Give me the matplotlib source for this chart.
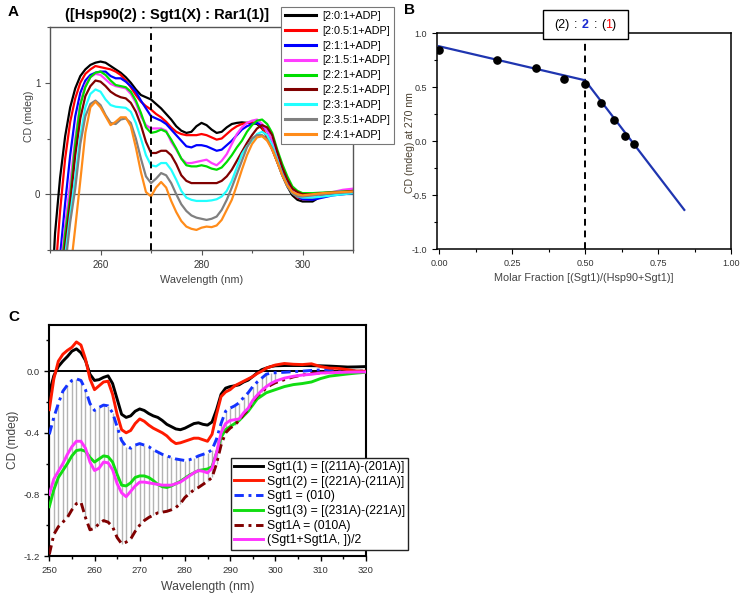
import matplotlib
matplotlib.use('Agg')
import matplotlib.pyplot as plt
from matplotlib.ticker import MultipleLocator, FormatStrFormatter
from matplotlib.offsetbox import TextArea, HPacker, AnchoredOffsetbox
from matplotlib.patches import Rectangle

plt.rcParams['font.family'] = ['Liberation Sans', 'DejaVu Sans']
plt.rcParams['axes.unicode_minus'] = False

# ---------------- Panel A data ----------------
wl_a = list(range(250, 301)) + [302, 304, 306, 308, 310]
a_labels = ['[2:0:1+ADP]', '[2:0.5:1+ADP]', '[2:1:1+ADP]', '[2:1.5:1+ADP]', '[2:2:1+ADP]',
            '[2:2.5:1+ADP]', '[2:3:1+ADP]', '[2:3.5:1+ADP]', '[2:4:1+ADP]']
cd_2_0_1 = [-1.2, -0.35, 0.15, 0.52, 0.78, 0.95, 1.06, 1.12, 1.16, 1.18,
            1.19, 1.18, 1.15, 1.12, 1.09, 1.05, 1.00, 0.94, 0.89, 0.87,
            0.85, 0.81, 0.77, 0.72, 0.67, 0.61, 0.57, 0.55, 0.56, 0.61,
            0.64, 0.62, 0.58, 0.55, 0.56, 0.60, 0.63, 0.64, 0.645, 0.64,
            0.64, 0.63, 0.59, 0.51, 0.41, 0.29, 0.17, 0.07, -0.01, -0.05,
            -0.065, -0.065, -0.01, 0.01, 0.015, 0.025]
cd_2_05_1 = [-1.2, -0.75, -0.15, 0.32, 0.65, 0.86, 1.0, 1.08, 1.12, 1.15,
             1.14, 1.13, 1.12, 1.10, 1.07, 1.02, 0.96, 0.89, 0.83, 0.79,
             0.76, 0.72, 0.69, 0.65, 0.60, 0.56, 0.54, 0.53, 0.53, 0.53,
             0.54, 0.53, 0.51, 0.49, 0.50, 0.54, 0.58, 0.61, 0.63, 0.64,
             0.645, 0.64, 0.60, 0.51, 0.40, 0.29, 0.18, 0.08, 0.01, -0.03,
             -0.045, -0.045, -0.01, 0.01, 0.02, 0.025]
cd_2_1_1 = [-1.5, -1.0, -0.55, -0.08, 0.35, 0.70, 0.91, 1.02, 1.07, 1.09,
            1.10, 1.10, 1.06, 1.04, 1.04, 1.01, 0.97, 0.92, 0.84, 0.77,
            0.70, 0.68, 0.66, 0.63, 0.58, 0.53, 0.48, 0.43, 0.42, 0.44,
            0.44, 0.43, 0.41, 0.39, 0.40, 0.44, 0.48, 0.53, 0.58, 0.61,
            0.63, 0.64, 0.62, 0.57, 0.46, 0.34, 0.22, 0.11, 0.02, -0.02,
            -0.045, -0.05, -0.03, -0.01, 0.0, 0.01]
cd_2_15_1 = [-1.6, -1.2, -0.7, -0.28, 0.1, 0.50, 0.82, 0.98, 1.05, 1.08,
             1.07, 1.03, 0.99, 0.97, 0.96, 0.95, 0.90, 0.82, 0.70, 0.62,
             0.59, 0.59, 0.59, 0.57, 0.47, 0.40, 0.32, 0.28, 0.28, 0.29,
             0.30, 0.31, 0.28, 0.26, 0.30, 0.36, 0.45, 0.54, 0.60, 0.64,
             0.66, 0.67, 0.63, 0.57, 0.48, 0.36, 0.24, 0.13, 0.05, 0.01,
             -0.015, -0.01, 0.01, 0.02, 0.04, 0.05]
cd_2_2_1 = [-1.6, -1.3, -0.8, -0.35, -0.02, 0.45, 0.80, 0.96, 1.05, 1.09,
            1.10, 1.07, 1.02, 0.98, 0.97, 0.96, 0.92, 0.84, 0.73, 0.60,
            0.55, 0.56, 0.58, 0.56, 0.49, 0.41, 0.32, 0.26, 0.25, 0.25,
            0.26, 0.25, 0.23, 0.22, 0.24, 0.29, 0.35, 0.42, 0.48, 0.56,
            0.62, 0.66, 0.67, 0.63, 0.55, 0.40, 0.27, 0.16, 0.07, 0.03,
            0.01, 0.01, 0.015, 0.02, 0.025, 0.03]
cd_2_25_1 = [-1.7, -1.4, -0.9, -0.45, -0.08, 0.35, 0.68, 0.88, 0.97, 1.02,
             1.01, 0.97, 0.92, 0.89, 0.87, 0.86, 0.82, 0.74, 0.62, 0.47,
             0.37, 0.37, 0.39, 0.39, 0.35, 0.27, 0.17, 0.12, 0.10, 0.10,
             0.10, 0.10, 0.10, 0.10, 0.12, 0.16, 0.22, 0.30, 0.38, 0.46,
             0.53, 0.59, 0.62, 0.60, 0.53, 0.38, 0.24, 0.13, 0.05, 0.02,
             0.0, 0.0, 0.01, 0.015, 0.02, 0.03]
cd_2_3_1 = [-1.8, -1.5, -1.0, -0.55, -0.18, 0.15, 0.52, 0.78, 0.90, 0.94,
            0.92, 0.85, 0.80, 0.785, 0.78, 0.775, 0.74, 0.64, 0.50, 0.35,
            0.26, 0.25, 0.28, 0.28, 0.22, 0.13, 0.03, -0.03, -0.05, -0.06,
            -0.06, -0.06, -0.055, -0.045, -0.02, 0.03, 0.12, 0.24, 0.36, 0.43,
            0.48, 0.54, 0.56, 0.53, 0.44, 0.31, 0.18, 0.08, 0.01, -0.02,
            -0.03, -0.03, -0.02, -0.01, 0.0, 0.01]
cd_2_35_1 = [-1.9, -1.6, -1.1, -0.65, -0.25, 0.05, 0.45, 0.70, 0.81, 0.84,
             0.80, 0.71, 0.64, 0.63, 0.67, 0.68, 0.64, 0.50, 0.32, 0.16,
             0.10, 0.14, 0.19, 0.17, 0.10, 0.0, -0.09, -0.15, -0.19, -0.21,
             -0.22, -0.23, -0.22, -0.20, -0.14, -0.05, 0.06, 0.18, 0.30, 0.42,
             0.50, 0.53, 0.53, 0.49, 0.41, 0.29, 0.17, 0.07, 0.01, -0.02,
             -0.02, -0.01, 0.0, 0.01, 0.015, 0.02]
cd_2_4_1 = [-2.0, -1.8, -1.3, -0.95, -0.7, -0.3, 0.12, 0.55, 0.78, 0.83,
            0.78, 0.70, 0.62, 0.65, 0.69, 0.69, 0.61, 0.42, 0.20, 0.02,
            -0.02, 0.06, 0.11, 0.06, -0.06, -0.16, -0.24, -0.29, -0.31, -0.32,
            -0.30, -0.29, -0.295, -0.28, -0.23, -0.14, -0.05, 0.08, 0.22, 0.35,
            0.45, 0.51, 0.52, 0.48, 0.40, 0.29, 0.17, 0.08, 0.02, 0.0,
            -0.01, 0.0, 0.01, 0.015, 0.02, 0.025]
a_series = [cd_2_0_1, cd_2_05_1, cd_2_1_1, cd_2_15_1, cd_2_2_1,
            cd_2_25_1, cd_2_3_1, cd_2_35_1, cd_2_4_1]
a_colors = ['#000000', '#ff0000', '#0000ff', '#ff3dff', '#00dd00',
            '#800000', '#22ffff', '#808080', '#ff8c1a']

# ---------------- Panel B data ----------------
molar_fraction = [0.0, 0.2, 0.333, 0.429, 0.5, 0.556, 0.6, 0.636, 0.667]
cd_270 = [0.846, 0.753, 0.68, 0.574, 0.528, 0.352, 0.198, 0.052, -0.025]
fit_x = [0.0, 0.5, 0.84]
fit_y = [0.88, 0.565, -0.635]

# ---------------- Panel C data ----------------
wl_c = list(range(250, 301)) + list(range(302, 321, 2))
sgt1_1 = [-0.14, -0.03, 0.03, 0.065, 0.095, 0.13, 0.145, 0.12, 0.07, -0.02,
          -0.06, -0.055, -0.04, -0.03, -0.08, -0.18, -0.28, -0.30, -0.29, -0.26,
          -0.245, -0.255, -0.275, -0.29, -0.30, -0.32, -0.345, -0.36, -0.375, -0.38,
          -0.37, -0.355, -0.34, -0.335, -0.345, -0.35, -0.33, -0.25, -0.15, -0.11,
          -0.10, -0.095, -0.088, -0.07, -0.058, -0.035, -0.01, 0.01, 0.02, 0.03,
          0.035, 0.037, 0.037, 0.037, 0.036, 0.035, 0.033, 0.03, 0.027, 0.028, 0.03]
sgt1_2 = [-0.25, -0.05, 0.065, 0.11, 0.135, 0.155, 0.19, 0.17, 0.08, -0.05,
          -0.12, -0.095, -0.07, -0.065, -0.15, -0.28, -0.38, -0.40, -0.385, -0.34,
          -0.31, -0.325, -0.35, -0.37, -0.385, -0.40, -0.42, -0.45, -0.47, -0.465,
          -0.455, -0.445, -0.435, -0.435, -0.445, -0.455, -0.41, -0.28, -0.165, -0.135,
          -0.12, -0.095, -0.08, -0.065, -0.05, -0.035, -0.015, 0.0, 0.02, 0.03,
          0.04, 0.05, 0.045, 0.043, 0.048, 0.03, 0.02, 0.018, 0.01, 0.0, 0.0]
sgt1_010 = [-0.41, -0.30, -0.21, -0.13, -0.09, -0.06, -0.05, -0.06, -0.12, -0.21,
            -0.255, -0.235, -0.22, -0.225, -0.27, -0.36, -0.45, -0.49, -0.50, -0.48,
            -0.47, -0.48, -0.49, -0.51, -0.525, -0.54, -0.55, -0.56, -0.57, -0.575,
            -0.58, -0.575, -0.565, -0.55, -0.54, -0.53, -0.51, -0.44, -0.34, -0.26,
            -0.24, -0.225, -0.205, -0.17, -0.14, -0.10, -0.07, -0.045, -0.02, -0.012,
            -0.01, -0.007, -0.003, 0.0, 0.005, 0.008, 0.01, 0.01, 0.005, 0.0, 0.0]
sgt1_3 = [-0.88, -0.77, -0.69, -0.645, -0.60, -0.55, -0.515, -0.51, -0.52, -0.56,
          -0.59, -0.57, -0.55, -0.555, -0.59, -0.67, -0.74, -0.745, -0.725, -0.69,
          -0.68, -0.68, -0.69, -0.71, -0.735, -0.75, -0.755, -0.745, -0.73, -0.715,
          -0.695, -0.675, -0.66, -0.645, -0.64, -0.635, -0.62, -0.53, -0.43, -0.38,
          -0.36, -0.34, -0.32, -0.29, -0.26, -0.22, -0.18, -0.16, -0.14, -0.13,
          -0.12, -0.10, -0.087, -0.08, -0.07, -0.048, -0.032, -0.025, -0.018, -0.012, -0.007]
sgt1a_010a = [-1.19, -1.06, -1.01, -0.98, -0.95, -0.90, -0.86, -0.85, -0.95, -1.03,
              -1.02, -0.99, -0.97, -0.98, -1.01, -1.08, -1.12, -1.11, -1.09, -1.04,
              -1.0, -0.97, -0.95, -0.935, -0.92, -0.915, -0.91, -0.90, -0.885, -0.86,
              -0.82, -0.795, -0.77, -0.755, -0.735, -0.715, -0.69, -0.60, -0.48, -0.40,
              -0.37, -0.35, -0.32, -0.28, -0.25, -0.20, -0.16, -0.135, -0.11, -0.09,
              -0.075, -0.055, -0.037, -0.025, -0.015, -0.011, -0.008, -0.005, -0.003, 0.0, 0.0]
sgt1_avg = [-0.80, -0.70, -0.65, -0.60, -0.54, -0.49, -0.455, -0.455, -0.50, -0.59,
            -0.645, -0.63, -0.59, -0.595, -0.64, -0.73, -0.79, -0.815, -0.78, -0.745,
            -0.72, -0.72, -0.725, -0.73, -0.735, -0.74, -0.74, -0.74, -0.73, -0.72,
            -0.70, -0.68, -0.66, -0.645, -0.65, -0.66, -0.63, -0.53, -0.40, -0.34,
            -0.32, -0.315, -0.31, -0.27, -0.24, -0.19, -0.155, -0.125, -0.10, -0.08,
            -0.065, -0.045, -0.033, -0.025, -0.02, -0.012, -0.01, -0.008, -0.006, -0.005, -0.005]
c_labels = ['Sgt1(1) = [(211A)-(201A)]', 'Sgt1(2) = [(221A)-(211A)]', 'Sgt1 = (010)',
            'Sgt1(3) = [(231A)-(221A)]', 'Sgt1A = (010A)', '(Sgt1+Sgt1A, ])/2']

# ---------------- Figure ----------------
W, H = 743, 597
fig = plt.figure(figsize=(W / 100, H / 100), dpi=100)

def rect(l, t, r, b):
    return [l / W, 1 - b / H, (r - l) / W, (b - t) / H]

tick_col = '#333333'

# ---- Panel A ----
axA = fig.add_axes(rect(50, 27, 353, 250))
for s in axA.spines.values():
    s.set_color('#555555')
    s.set_linewidth(1.0)
axA.axhline(0, color='#555555', lw=0.9, zorder=1)
for y, c, lab in zip(a_series, a_colors, a_labels):
    axA.plot(wl_a, y, color=c, lw=1.6, label=lab, zorder=2)
axA.axvline(270, color='black', lw=1.4, ls=(0, (3.5, 2.5)), zorder=5)
axA.set_xlim(250, 310)
axA.set_ylim(-0.5, 1.5)
axA.xaxis.set_major_locator(MultipleLocator(20))
axA.xaxis.set_minor_locator(MultipleLocator(10))
axA.yaxis.set_major_locator(MultipleLocator(1))
axA.yaxis.set_minor_locator(MultipleLocator(0.5))
axA.yaxis.set_major_formatter(FormatStrFormatter('%g'))
axA.tick_params(which='both', direction='out', colors='#555555', labelcolor=tick_col,
                labelsize=7, width=0.8)
axA.tick_params(which='major', length=3.5)
axA.tick_params(which='minor', length=2.5)
axA.set_xlabel('Wavelength (nm)', fontsize=7.8, color='#444444')
axA.set_ylabel('CD (mdeg)', fontsize=7.6, color='#444444')
axA.xaxis.set_label_coords(0.5, -0.112)
axA.yaxis.set_label_coords(-0.053, 0.6)
legA = axA.legend(loc='upper left', bbox_to_anchor=(281 / W, 1 - 7 / H),
                  bbox_transform=fig.transFigure, fontsize=7.8, frameon=True,
                  fancybox=False, edgecolor='#777777', framealpha=1,
                  handlelength=2.9, handletextpad=0.6, labelspacing=0.45,
                  borderpad=0.35, borderaxespad=0)
legA.get_frame().set_linewidth(0.8)
for ln in legA.get_lines():
    ln.set_linewidth(2.2)
fig.text(167 / W, 1 - 15 / H, '([Hsp90(2) : Sgt1(X) : Rar1(1)]', fontsize=10.5,
         fontweight='bold', ha='center', va='center')
fig.text(8 / W, 1 - 12 / H, 'A', fontsize=11, fontweight='bold', ha='left', va='center')

# ---- Panel B ----
axB = fig.add_axes(rect(436.7, 33.3, 731, 249.3))
for s in axB.spines.values():
    s.set_color('black')
    s.set_linewidth(1.1)
axB.axvline(0.5, color='black', lw=1.4, ls=(0, (3.5, 2.5)), zorder=2)
axB.plot(fit_x, fit_y, color='#1f35b0', lw=1.6, zorder=3)
axB.plot(molar_fraction, cd_270, 'o', color='black', ms=5.2, zorder=4)
axB.set_xlim(-0.008, 1.0)
axB.set_ylim(-1.0, 1.0)
axB.xaxis.set_major_locator(MultipleLocator(0.25))
axB.xaxis.set_minor_locator(MultipleLocator(0.125))
axB.yaxis.set_major_locator(MultipleLocator(0.5))
axB.yaxis.set_minor_locator(MultipleLocator(0.25))
axB.xaxis.set_major_formatter(FormatStrFormatter('%.2f'))
axB.yaxis.set_major_formatter(FormatStrFormatter('%.1f'))
axB.tick_params(which='both', direction='out', labelsize=6.5, labelcolor=tick_col, width=0.8)
axB.tick_params(which='major', length=3.5)
axB.tick_params(which='minor', length=2)
axB.set_xlabel('Molar Fraction [(Sgt1)/(Hsp90+Sgt1)]', fontsize=7.8, color='#444444')
axB.set_ylabel('CD (mdeg) at 270 nm', fontsize=7.6, color='#4a4030')
axB.xaxis.set_label_coords(0.5, -0.11)
axB.yaxis.set_label_coords(-0.074, 0.494)
fig.add_artist(Rectangle((543 / W, 1 - 39 / H), 85 / W, 29 / H, transform=fig.transFigure,
                         facecolor='white', edgecolor='black', lw=1.0, zorder=10))
tp = dict(fontsize=9, color='black')
inner = HPacker(children=[TextArea('(', textprops=tp),
                          TextArea('1', textprops=dict(fontsize=9, color='red')),
                          TextArea(')', textprops=tp)], sep=0, pad=0, align='baseline')
outer = HPacker(children=[TextArea('(2)', textprops=tp), TextArea(':', textprops=tp),
                          TextArea('2', textprops=dict(fontsize=9, color='#1a2ad0', fontweight='bold')),
                          TextArea(':', textprops=tp), inner], sep=3.2, pad=0, align='baseline')
anch = AnchoredOffsetbox(loc='center', child=outer, bbox_to_anchor=(585.5 / W, 1 - 25 / H),
                         bbox_transform=fig.transFigure, frameon=False, pad=0, borderpad=0)
anch.set_zorder(11)
fig.add_artist(anch)
fig.text(404 / W, 1 - 10 / H, 'B', fontsize=11, fontweight='bold', ha='left', va='center')

# ---- Panel C ----
axC = fig.add_axes(rect(49.3, 325, 365.7, 556))
for s in axC.spines.values():
    s.set_color('black')
    s.set_linewidth(1.5)
drop_x = [w for w in wl_c if w <= 300]
n = len(drop_x)
axC.vlines(drop_x, sgt1a_010a[:n], sgt1_010[:n], color='#b4b4b4', lw=1.0, zorder=1)
axC.axhline(0, color='black', lw=1.4, zorder=2)
dashdot = (0, (3.2, 1.6, 1.0, 1.6))
lC = []
lC += axC.plot(wl_c, sgt1_1, color='black', lw=2.1, zorder=4)
lC += axC.plot(wl_c, sgt1_2, color='#ff1a00', lw=2.1, zorder=4)
lC += axC.plot(wl_c, sgt1_010, color='#1433ff', lw=2.1, ls=dashdot, zorder=3)
lC += axC.plot(wl_c, sgt1_3, color='#11dd11', lw=2.1, zorder=3)
lC += axC.plot(wl_c, sgt1a_010a, color='#800000', lw=2.1, ls=dashdot, zorder=3)
lC += axC.plot(wl_c, sgt1_avg, color='#ff33ff', lw=2.1, zorder=4)
axC.set_xlim(250, 320)
axC.set_ylim(-1.2, 0.3)
axC.xaxis.set_major_locator(MultipleLocator(10))
axC.xaxis.set_minor_locator(MultipleLocator(5))
axC.yaxis.set_major_locator(MultipleLocator(0.4))
axC.yaxis.set_minor_locator(MultipleLocator(0.2))
axC.yaxis.set_major_formatter(FormatStrFormatter('%.1f'))
axC.tick_params(which='both', direction='out', labelsize=6.8, labelcolor=tick_col, width=1.0)
axC.tick_params(which='major', length=3.5)
axC.tick_params(which='minor', length=2.5)
axC.set_xlabel('Wavelength (nm)', fontsize=8.8, color='#444444')
axC.set_ylabel('CD (mdeg)', fontsize=8.6, color='#444444')
axC.xaxis.set_label_coords(0.5, -0.108)
axC.yaxis.set_label_coords(-0.096, 0.502)
legC = axC.legend(lC, c_labels, loc='upper left', bbox_to_anchor=(231 / W, 1 - 458 / H),
                  bbox_transform=fig.transFigure, fontsize=8.8, frameon=True,
                  fancybox=False, edgecolor='#222222', framealpha=1,
                  handlelength=2.4, handletextpad=0.3, labelspacing=0.22,
                  borderpad=0.25, borderaxespad=0)
legC.get_frame().set_linewidth(1.0)
legC.set_zorder(10)
fig.text(8 / W, 1 - 317 / H, 'C', fontsize=11, fontweight='bold', ha='left', va='center')

fig.savefig('out.png', dpi=100)
